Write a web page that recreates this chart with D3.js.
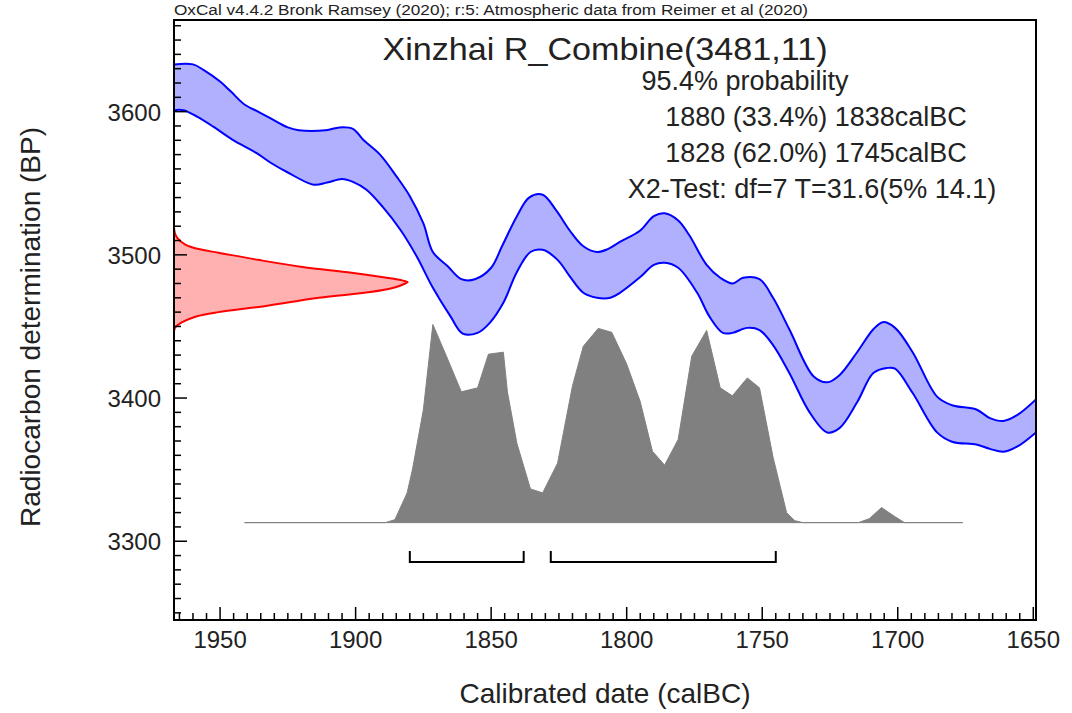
<!DOCTYPE html>
<html><head><meta charset="utf-8">
<script src="https://cdn.jsdelivr.net/npm/d3@7"></script>
<style>body{margin:0;background:#fff}svg{display:block;font-family:"Liberation Sans",Arial,sans-serif}</style>
</head><body><svg id="c" width="1072" height="713"></svg>
<script>
// ---- data ----
const xTickLabels = [1950,1900,1850,1800,1750,1700,1650];
const yTickLabels = [3300,3400,3500,3600];

const upperYears = [1967,1960,1956,1950,1946,1941,1936,1932,1925,1921,1911,1906,1901,1897,1891,1885,1880,1875,1871.5,1866,1861,1856,1850,1846,1840.5,1836,1831,1826,1821,1816,1811,1807,1802.5,1795,1790,1786,1781,1777,1770.5,1765.5,1761,1757,1751,1746,1740,1731,1726,1721.5,1715,1709,1705.5,1701,1694.5,1685.5,1680,1671,1666,1661,1656,1649];
const upperBP = [3633,3633,3629,3621,3614,3605,3600,3596,3589,3587,3587,3589,3588,3580,3570,3555,3541,3522,3502,3492,3483,3483,3491,3506,3527,3540,3542,3531,3517,3506,3502,3504,3509,3517,3527,3529,3524,3514,3493,3484,3480,3484,3483,3470,3448,3415,3411,3416,3432,3448,3453,3449,3432,3401,3395,3392,3386,3384,3388,3399];

const lowerYears = [1967,1963.5,1958.5,1952.5,1945.5,1936.5,1931.5,1925,1915.5,1910.5,1905,1901,1896,1890,1883.5,1877.5,1871.5,1865,1860.5,1855,1850.5,1845.5,1840.5,1835.5,1831,1825.5,1821,1816,1811,1806,1802.5,1795,1790,1786,1781,1774,1769.5,1764.5,1761,1755.5,1751,1746,1740,1732.5,1726,1721.5,1715,1709,1704,1701,1694.5,1685.5,1680,1671,1666,1661,1656,1649];
const lowerBP = [3601,3601,3596.5,3589.5,3580.5,3571,3564.5,3557.5,3549,3550.5,3553,3551,3545.5,3533.5,3517.5,3499,3477,3457,3445,3445.5,3452.5,3466.5,3488,3502,3503.5,3496.5,3485,3473.5,3470,3470,3473.5,3484.5,3493,3494.5,3491,3473.5,3457,3445.5,3445.5,3449,3447.5,3437,3417.5,3390,3376,3379,3397,3417.5,3421,3420.5,3403.5,3376,3369.5,3367.5,3364.5,3362.5,3366,3376];

const redBP = [3519,3515,3512,3507,3503.5,3501.5,3496.5,3491.5,3487.5,3484,3482,3481,3480,3477,3474,3470,3464,3460,3457,3453,3449,3446];
const redProb = [0,0.004,0.013,0.05,0.12,0.19,0.36,0.55,0.76,0.91,0.98,1.0,0.99,0.94,0.84,0.62,0.38,0.19,0.095,0.035,0.004,0];

const grayYears = [1941,1889,1885.5,1881,1879,1875,1871.5,1866.5,1861,1855,1851,1845.5,1844,1840.5,1835.5,1831,1825.5,1820,1816,1810.5,1805.5,1800,1795,1790.5,1786,1781,1776,1770.5,1765.5,1761,1755.5,1751,1746,1741,1738,1735,1714.5,1710.5,1706,1701,1697.5,1676];
const grayProb = [0,0,0.015,0.15,0.27,0.57,1.0,0.84,0.66,0.68,0.85,0.86,0.66,0.40,0.17,0.15,0.30,0.69,0.89,0.98,0.96,0.80,0.61,0.36,0.29,0.42,0.84,0.97,0.68,0.64,0.73,0.68,0.33,0.05,0.01,0,0,0.02,0.076,0.03,0,0];

const rangeStarts = [1880,1828];
const rangeEnds = [1838,1745];

const headerText = "OxCal v4.4.2 Bronk Ramsey (2020); r:5: Atmospheric data from Reimer et al (2020)";
const titleText = "Xinzhai R_Combine(3481,11)";
const infoLines = ["95.4% probability","1880 (33.4%) 1838calBC","1828 (62.0%) 1745calBC","X2-Test: df=7 T=31.6(5% 14.1)"];
const xTitle = "Calibrated date (calBC)";
const yTitle = "Radiocarbon determination (BP)";

// ---- layout ----
const L=174, R=1036, T=20, B=620;
const svg = d3.select("#c");
const x = d3.scaleLinear().domain([1967,1649]).range([L,R]);
const y = d3.scaleLinear().domain([3245,3664]).range([B,T]);
const redW = d3.scaleLinear().domain([0,1]).range([x(1967), x(1880.8)]);
const grayBase = 3313, grayTop = 3451.4;
const gy = d3.scaleLinear().domain([0,1]).range([y(grayBase), y(grayTop)]);

svg.append("rect").attr("width",1072).attr("height",713).attr("fill","#fff");
svg.append("clipPath").attr("id","pc").append("rect").attr("x",L).attr("y",T).attr("width",R-L).attr("height",B-T);
const g = svg.append("g").attr("clip-path","url(#pc)");

// blue band
const up = upperYears.map((d,i)=>[x(d), y(upperBP[i])]);
const lo = lowerYears.map((d,i)=>[x(d), y(lowerBP[i])]);
const sm = d3.line().curve(d3.curveCatmullRom.alpha(0.5));
g.append("path").attr("d", sm(up) + "L" + sm(lo.slice().reverse()).slice(1) + "Z").attr("fill","#b0b0ff").attr("stroke","none");
g.append("path").attr("d", sm(up)).attr("fill","none").attr("stroke","#0000ff").attr("stroke-width",2).attr("stroke-linejoin","round");
g.append("path").attr("d", sm(lo)).attr("fill","none").attr("stroke","#0000ff").attr("stroke-width",2).attr("stroke-linejoin","round");

// red likelihood
const redPts = redBP.map((d,i)=>[redW(redProb[i]), y(d)]);
g.append("path").attr("d", sm(redPts)+"Z").attr("fill","#ffb0b0").attr("stroke","none");
g.append("path").attr("d", sm(redPts)).attr("fill","none").attr("stroke","#ff0000").attr("stroke-width",2).attr("stroke-linejoin","round");

// gray posterior
const area = d3.area().x((d,i)=>x(grayYears[i])).y0(gy(0)).y1((d,i)=>gy(grayProb[i]));
g.append("path").attr("d", area(grayYears)).attr("fill","#808080").attr("stroke","#808080").attr("stroke-width",1);

// brackets
const bY = y(3285.5);
rangeStarts.forEach((s,i)=>{
  const x1=x(s), x2=x(rangeEnds[i]);
  g.append("path").attr("d",`M${x1},${bY-11}L${x1},${bY}L${x2},${bY}L${x2},${bY-11}`)
   .attr("fill","none").attr("stroke","#000").attr("stroke-width",2);
});

// ticks
const tk = svg.append("g").attr("stroke","#000").attr("stroke-width",1.5);
d3.range(1965,1649,-5).forEach(v=>{
  const maj = v%50===0;
  tk.append("line").attr("x1",x(v)).attr("x2",x(v)).attr("y1",B).attr("y2",B-(maj?13:7));
});
d3.range(3250,3664,10).forEach(v=>{
  const maj = v%100===0;
  tk.append("line").attr("y1",y(v)).attr("y2",y(v)).attr("x1",L).attr("x2",L+(maj?13:7));
});
// frame
svg.append("rect").attr("x",L).attr("y",T).attr("width",R-L).attr("height",B-T)
  .attr("fill","none").attr("stroke","#000").attr("stroke-width",2);

// tick labels
svg.selectAll("text.xl").data(xTickLabels).join("text").attr("class","xl")
  .attr("x",d=>x(d)).attr("y",648).attr("text-anchor","middle").attr("font-size",24).attr("fill","#222").text(d=>d);
svg.selectAll("text.yl").data(yTickLabels).join("text").attr("class","yl")
  .attr("x",161).attr("y",d=>y(d)+9).attr("text-anchor","end").attr("font-size",24).attr("fill","#222").text(d=>d);

// titles
svg.append("text").attr("x",605).attr("y",703).attr("text-anchor","middle").attr("font-size",28).attr("fill","#222").text(xTitle);
svg.append("text").attr("transform","translate(40,327) rotate(-90)").attr("text-anchor","middle").attr("font-size",28).attr("fill","#222").text(yTitle);
svg.append("text").attr("x",174).attr("y",15).attr("font-size",14).attr("fill","#222")
  .attr("textLength",634).attr("lengthAdjust","spacingAndGlyphs").text(headerText);
svg.append("text").attr("x",605).attr("y",60).attr("text-anchor","middle").attr("font-size",32).attr("fill","#222")
  .attr("textLength",445).attr("lengthAdjust","spacingAndGlyphs").text(titleText);
const infoX = [745,816,816,812], infoY=[90,126,162,198];
infoLines.forEach((t,i)=>{
  svg.append("text").attr("x",infoX[i]).attr("y",infoY[i]).attr("text-anchor","middle").attr("font-size",27).attr("fill","#222").text(t);
});
</script></body></html>
